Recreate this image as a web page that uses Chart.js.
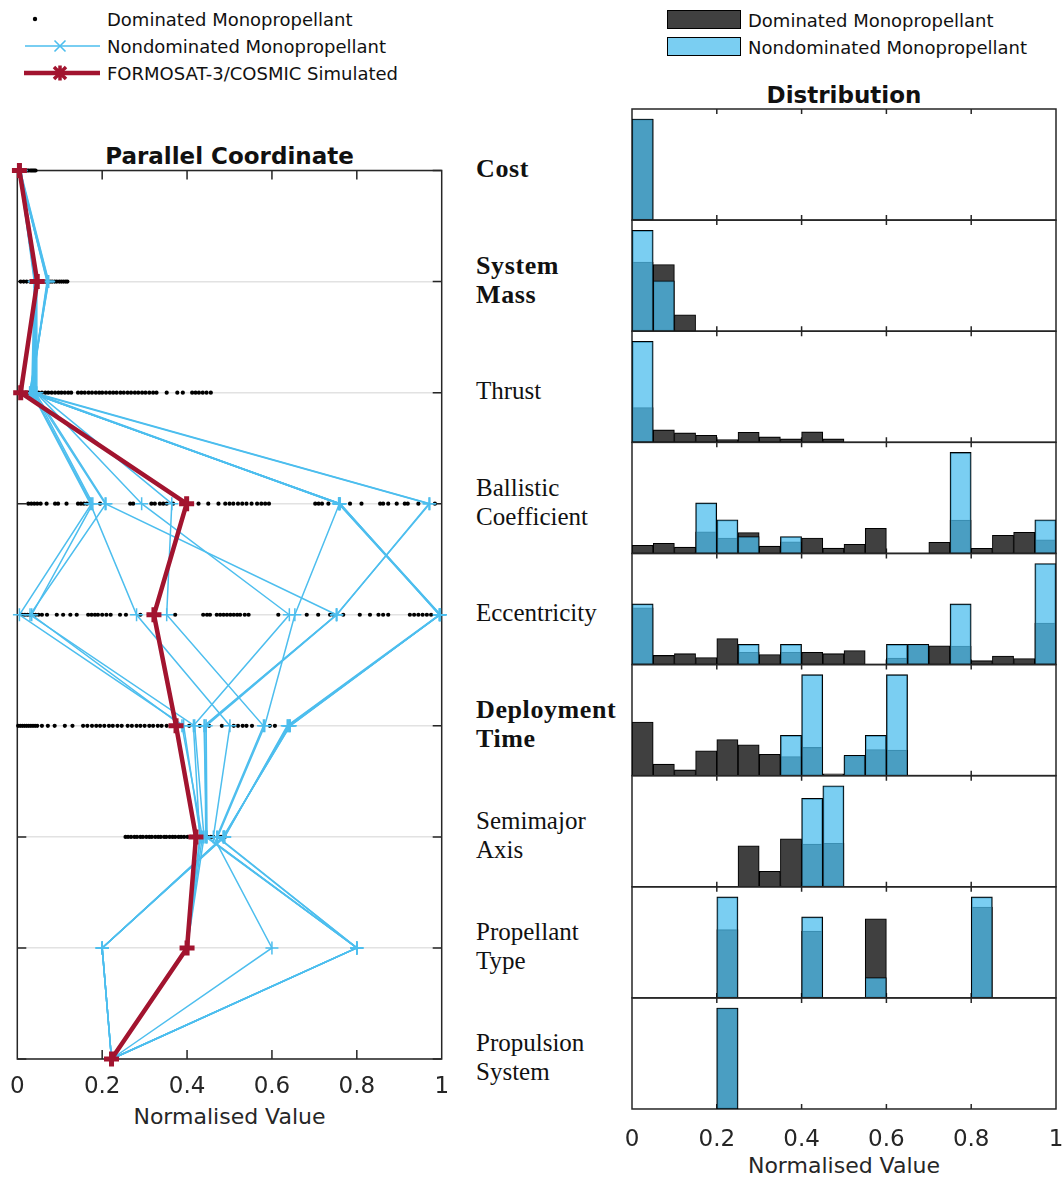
<!DOCTYPE html>
<html>
<head>
<meta charset="utf-8">
<script src="https://cdn.jsdelivr.net/npm/chart.js@4.4.0/dist/chart.umd.min.js"></script>
<style>
  html, body { margin: 0; padding: 0; background: #fff; }
  body { width: 1063px; height: 1180px; position: relative; overflow: hidden;
         font-family: 'DejaVu Sans', sans-serif; color: #1a1a1a; }
  canvas { position: absolute; }
  .txt { position: absolute; white-space: nowrap; line-height: 1.2; }
  .mid { transform: translateY(-50%); }
  .ctr { transform: translate(-50%, -50%); }
  .obj { font-family: 'Liberation Serif', serif; font-size: 25px; color: #111; }
  .obj.b { font-weight: bold; font-size: 26px; letter-spacing: 0.6px; }
  .leg { font-size: 18px; color: #111; }
  .ttl { font-size: 23px; font-weight: bold; color: #111; }
  .axt { font-size: 22px; color: #262626; }
  .box { position: absolute; width: 72px; height: 17px; border: 1px solid #000; }
</style>
</head>
<body>

<!-- legend for the parallel-coordinate panel -->
<svg style="position:absolute;left:0;top:0" width="110" height="90">
  <circle cx="35" cy="19" r="2.2" fill="#000"/>
  <line x1="25" y1="46" x2="100" y2="46" stroke="rgb(77,190,238)" stroke-width="1.5"/>
  <path d="M54.5 40.5 L65.5 51.5 M54.5 51.5 L65.5 40.5" stroke="rgb(77,190,238)" stroke-width="1.6"/>
  <line x1="24" y1="73" x2="100" y2="73" stroke="rgb(162,20,47)" stroke-width="4.5"/>
  <path d="M54 67 L66 79 M54 79 L66 67 M60 65.5 L60 80.5" stroke="rgb(162,20,47)" stroke-width="3.5"/>
</svg>
<div class="txt mid leg" style="left:107px;top:20px">Dominated Monopropellant</div>
<div class="txt mid leg" style="left:107px;top:47px">Nondominated Monopropellant</div>
<div class="txt mid leg" style="left:107px;top:74px">FORMOSAT-3/COSMIC Simulated</div>

<!-- legend for the distribution panels -->
<div class="box" style="left:667px;top:10px;background:rgb(64,64,64)"></div>
<div class="box" style="left:667px;top:37px;background:rgb(122,206,242)"></div>
<div class="txt mid leg" style="left:748px;top:21px">Dominated Monopropellant</div>
<div class="txt mid leg" style="left:748px;top:48px">Nondominated Monopropellant</div>

<div class="txt ctr ttl" style="left:229.5px;top:157px">Parallel Coordinate</div>
<div class="txt ctr ttl" style="left:844px;top:96px">Distribution</div>
<div class="txt ctr axt" style="left:229.5px;top:1117px">Normalised Value</div>
<div class="txt ctr axt" style="left:844px;top:1166px">Normalised Value</div>

<div id="labels"></div>
<canvas id="pc" width="470" height="1180" style="left:0;top:0"></canvas>
<div id="hists"></div>

<script>
// ---- objectives (rows of the parallel-coordinate plot, one histogram each) ----
const objectives = ['Cost', 'System Mass', 'Thrust', 'Ballistic Coefficient', 'Eccentricity',
                    'Deployment Time', 'Semimajor Axis', 'Propellant Type', 'Propulsion System'];
const objectiveLines = [['Cost'], ['System', 'Mass'], ['Thrust'], ['Ballistic', 'Coefficient'],
                        ['Eccentricity'], ['Deployment', 'Time'], ['Semimajor', 'Axis'],
                        ['Propellant', 'Type'], ['Propulsion', 'System']];
const objectiveBold = [true, true, false, false, false, true, false, false, false];

const xTickValues = [0, 0.2, 0.4, 0.6, 0.8, 1];
const binEdges = [0, 0.05, 0.1, 0.15, 0.2, 0.25, 0.3, 0.35, 0.4, 0.45, 0.5,
                  0.55, 0.6, 0.65, 0.7, 0.75, 0.8, 0.85, 0.9, 0.95, 1];

// ---- dominated designs, normalised values per objective row ----
const domCost = [0.002, 0.006, 0.01, 0.013, 0.017, 0.02, 0.024, 0.027, 0.031, 0.034, 0.037, 0.04, 0.043];
const domMass = [0.008, 0.015, 0.022, 0.03, 0.036, 0.043, 0.05, 0.055, 0.061, 0.066, 0.071, 0.077,
                 0.082, 0.088, 0.093, 0.099, 0.104, 0.109, 0.114, 0.118];
const domThrust = [0.012, 0.02, 0.027, 0.035, 0.043, 0.05, 0.058, 0.066, 0.073, 0.081, 0.089, 0.097,
                   0.104, 0.112, 0.12, 0.127, 0.143, 0.151, 0.159, 0.168, 0.176, 0.185, 0.193, 0.2,
                   0.209, 0.218, 0.226, 0.234, 0.243, 0.251, 0.26, 0.268, 0.277, 0.285, 0.294, 0.302,
                   0.311, 0.32, 0.328, 0.352, 0.377, 0.39, 0.412, 0.42, 0.428, 0.437, 0.446, 0.456];
const domBallistic = [0.026, 0.033, 0.04, 0.047, 0.055, 0.069, 0.089, 0.096, 0.116, 0.143, 0.15, 0.157,
                      0.164, 0.195, 0.266, 0.273, 0.316, 0.324, 0.336, 0.344, 0.352, 0.367, 0.427,
                      0.45, 0.474, 0.49, 0.5, 0.509, 0.52, 0.53, 0.54, 0.552, 0.565, 0.575, 0.584,
                      0.593, 0.702, 0.71, 0.718, 0.733, 0.784, 0.811, 0.855, 0.862, 0.874, 0.894,
                      0.913, 0.92, 0.945, 0.984];
const domEccentricity = [0.012, 0.018, 0.024, 0.03, 0.037, 0.043, 0.05, 0.058, 0.07, 0.093, 0.108,
                         0.125, 0.14, 0.167, 0.175, 0.183, 0.19, 0.2, 0.21, 0.22, 0.242, 0.256, 0.29,
                         0.31, 0.372, 0.438, 0.447, 0.454, 0.47, 0.478, 0.486, 0.494, 0.502, 0.51,
                         0.518, 0.525, 0.536, 0.545, 0.615, 0.682, 0.709, 0.737, 0.745, 0.768, 0.807,
                         0.831, 0.851, 0.862, 0.874, 0.925, 0.935, 0.945, 0.955, 0.965, 0.975];
const domDeployment = [0.002, 0.007, 0.012, 0.017, 0.022, 0.027, 0.032, 0.037, 0.042, 0.047, 0.058,
                       0.072, 0.088, 0.112, 0.13, 0.155, 0.165, 0.176, 0.186, 0.195, 0.205, 0.216,
                       0.225, 0.236, 0.246, 0.26, 0.27, 0.281, 0.29, 0.3, 0.311, 0.32, 0.331, 0.34,
                       0.352, 0.405, 0.43, 0.452, 0.482, 0.51, 0.52, 0.531, 0.54, 0.553, 0.595, 0.607];
const domSemimajor = [0.255, 0.261, 0.268, 0.276, 0.282, 0.29, 0.296, 0.304, 0.311, 0.317, 0.325,
                      0.332, 0.338, 0.346, 0.351, 0.359, 0.366, 0.372, 0.38, 0.386, 0.393, 0.401,
                      0.409, 0.414, 0.423, 0.431, 0.437, 0.448, 0.456, 0.462, 0.473, 0.48, 0.489];
const dominatedRows = [domCost, domMass, domThrust, domBallistic, domEccentricity, domDeployment, domSemimajor];

// ---- nondominated designs: one row per design, values in objective order ----
const nondominated = [
  [0.004, 0.042, 0.036, 0.175, 0.005, 0.392, 0.432, 0.4, 0.222],
  [0.006, 0.044, 0.040, 0.178, 0.034, 0.388, 0.436, 0.4, 0.222],
  [0.005, 0.040, 0.034, 0.172, 0.281, 0.501, 0.462, 0.6, 0.222],
  [0.008, 0.045, 0.042, 0.209, 0.030, 0.418, 0.440, 0.4, 0.222],
  [0.007, 0.043, 0.038, 0.207, 0.752, 0.440, 0.446, 0.8, 0.222],
  [0.006, 0.041, 0.044, 0.293, 0.641, 0.415, 0.430, 0.4, 0.222],
  [0.009, 0.046, 0.046, 0.364, 0.352, 0.580, 0.470, 0.8, 0.222],
  [0.004, 0.072, 0.030, 0.759, 0.996, 0.640, 0.487, 0.2, 0.222],
  [0.005, 0.070, 0.032, 0.757, 0.995, 0.642, 0.486, 0.2, 0.222],
  [0.006, 0.073, 0.031, 0.760, 0.997, 0.638, 0.488, 0.2, 0.222],
  [0.005, 0.071, 0.033, 0.758, 0.996, 0.643, 0.485, 0.2, 0.222],
  [0.007, 0.074, 0.029, 0.761, 0.994, 0.636, 0.489, 0.2, 0.222],
  [0.006, 0.043, 0.037, 0.759, 0.654, 0.583, 0.472, 0.8, 0.222],
  [0.005, 0.044, 0.040, 0.972, 0.752, 0.442, 0.444, 0.8, 0.222],
  [0.008, 0.045, 0.035, 0.970, 0.753, 0.445, 0.447, 0.8, 0.222]
];

// ---- FORMOSAT-3/COSMIC simulated design ----
const formosat = [0.005, 0.047, 0.008, 0.399, 0.322, 0.374, 0.421, 0.4, 0.222];

// ---- histogram probabilities per 0.05 bin (20 bins), one row per objective ----
const histDominated = [
  [1, 0, 0, 0, 0, 0, 0, 0, 0, 0, 0, 0, 0, 0, 0, 0, 0, 0, 0, 0],
  [0.457, 0.44, 0.109, 0, 0, 0, 0, 0, 0, 0, 0, 0, 0, 0, 0, 0, 0, 0, 0, 0],
  [0.345, 0.123, 0.093, 0.07, 0.027, 0.1, 0.054, 0.034, 0.103, 0.034, 0, 0, 0, 0, 0, 0, 0, 0, 0, 0],
  [0.032, 0.04, 0.025, 0.086, 0.061, 0.083, 0.029, 0.046, 0.061, 0.021, 0.036, 0.099, 0, 0, 0.044, 0.132, 0.02, 0.072, 0.084, 0.054],
  [0.187, 0.03, 0.036, 0.023, 0.086, 0.04, 0.033, 0.04, 0.04, 0.036, 0.046, 0, 0.021, 0.066, 0.062, 0.061, 0.013, 0.028, 0.02, 0.137],
  [0.177, 0.038, 0.019, 0.082, 0.119, 0.102, 0.07, 0.063, 0.093, 0.006, 0.063, 0.086, 0.084, 0, 0, 0, 0, 0, 0, 0],
  [0, 0, 0, 0, 0, 0.216, 0.081, 0.253, 0.225, 0.229, 0, 0, 0, 0, 0, 0, 0, 0, 0, 0],
  [0, 0, 0, 0, 0.225, 0, 0, 0, 0.22, 0, 0, 0.261, 0, 0, 0, 0, 0.299, 0, 0, 0],
  [0, 0, 0, 0, 1, 0, 0, 0, 0, 0, 0, 0, 0, 0, 0, 0, 0, 0, 0, 0]
];
const histNondominated = [
  [1, 0, 0, 0, 0, 0, 0, 0, 0, 0, 0, 0, 0, 0, 0, 0, 0, 0, 0, 0],
  [0.667, 0.333, 0, 0, 0, 0, 0, 0, 0, 0, 0, 0, 0, 0, 0, 0, 0, 0, 0, 0],
  [1, 0, 0, 0, 0, 0, 0, 0, 0, 0, 0, 0, 0, 0, 0, 0, 0, 0, 0, 0],
  [0, 0, 0, 0.2, 0.133, 0.067, 0, 0.067, 0, 0, 0, 0, 0, 0, 0, 0.4, 0, 0, 0, 0.133],
  [0.2, 0, 0, 0, 0, 0.067, 0, 0.067, 0, 0, 0, 0, 0.067, 0.067, 0, 0.2, 0, 0, 0, 0.333],
  [0, 0, 0, 0, 0, 0, 0, 0.133, 0.333, 0, 0.067, 0.133, 0.333, 0, 0, 0, 0, 0, 0, 0],
  [0, 0, 0, 0, 0, 0, 0, 0, 0.467, 0.533, 0, 0, 0, 0, 0, 0, 0, 0, 0, 0],
  [0, 0, 0, 0, 0.333, 0, 0, 0, 0.267, 0, 0, 0.067, 0, 0, 0, 0, 0.333, 0, 0, 0],
  [0, 0, 0, 0, 1, 0, 0, 0, 0, 0, 0, 0, 0, 0, 0, 0, 0, 0, 0, 0]
];

// ---- styling ----
const BLUE = 'rgb(77,190,238)';
const BLUE_FACE = 'rgba(77,190,238,0.75)';
const RED = 'rgb(162,20,47)';
const DARK = 'rgb(64,64,64)';
const AXIS = '#262626';

Chart.defaults.font.family = "'DejaVu Sans', sans-serif";
Chart.defaults.animation = false;
Chart.defaults.events = [];
Chart.defaults.plugins.legend.display = false;
Chart.defaults.plugins.tooltip.enabled = false;

const fmtTick = v => String(+(+v).toFixed(2));

// box around the plotting area with inward tick marks
function framePlugin(tickLen, levelTicks) {
  return {
    id: 'frame',
    beforeDatasetsDraw(chart) {
      const { ctx, chartArea: a, scales } = chart;
      ctx.save();
      ctx.strokeStyle = AXIS;
      ctx.lineWidth = 1.5;
      ctx.beginPath();
      xTickValues.slice(1, -1).forEach(v => {
        const px = scales.x.getPixelForValue(v);
        ctx.moveTo(px, a.top); ctx.lineTo(px, a.top + tickLen);
        ctx.moveTo(px, a.bottom); ctx.lineTo(px, a.bottom - tickLen);
      });
      if (levelTicks) {
        objectives.forEach((_, i) => {
          const py = scales.y.getPixelForValue(i);
          ctx.moveTo(a.left, py); ctx.lineTo(a.left + tickLen, py);
          ctx.moveTo(a.right, py); ctx.lineTo(a.right - tickLen, py);
        });
      }
      ctx.stroke();
      ctx.strokeRect(a.left, a.top, a.width, a.height);
      ctx.restore();
    }
  };
}

// ---------------- parallel coordinate plot ----------------
const pcSets = [];
pcSets.push({
  data: formosat.map((v, i) => ({ x: v, y: i })),
  showLine: true, borderColor: RED, borderWidth: 4.5,
  pointStyle: 'cross', pointRadius: 7.5, pointBorderWidth: 5, pointBorderColor: RED,
  order: 0, clip: false
});
nondominated.forEach(row => pcSets.push({
  data: row.map((v, i) => ({ x: v, y: i })),
  showLine: true, borderColor: BLUE, borderWidth: 1.5,
  pointStyle: 'cross', pointRadius: 6.5, pointBorderWidth: 1.5, pointBorderColor: BLUE,
  order: 1, clip: false
}));
pcSets.push({
  data: dominatedRows.flatMap((row, i) => row.map(v => ({ x: v, y: i }))),
  showLine: false, pointRadius: 2.1, pointBorderWidth: 0,
  pointBackgroundColor: '#000', backgroundColor: '#000',
  order: 2, clip: false
});

new Chart(document.getElementById('pc'), {
  type: 'scatter',
  data: { datasets: pcSets },
  options: {
    responsive: false,
    devicePixelRatio: 1,
    layout: { padding: { left: 17.3, right: 28.3, top: 170.5, bottom: 81 } },
    scales: {
      x: {
        type: 'linear', min: 0, max: 1, position: 'bottom',
        afterBuildTicks: s => { s.ticks = xTickValues.map(v => ({ value: v })); },
        ticks: { font: { size: 23 }, color: AXIS, padding: 14, callback: fmtTick, maxRotation: 0 },
        grid: { display: false, drawTicks: false },
        border: { display: false },
        afterFit: s => { s.height = 40; s.paddingLeft = 0; s.paddingRight = 0; }
      },
      y: {
        type: 'linear', min: 0, max: objectives.length - 1, reverse: true,
        afterBuildTicks: s => { s.ticks = objectives.map((_, i) => ({ value: i })); },
        ticks: { display: false },
        grid: { color: '#e2e2e2', lineWidth: 1.5, drawTicks: false },
        border: { display: false },
        afterFit: s => { s.width = 0; }
      }
    }
  },
  plugins: [framePlugin(9, true)]
});

// ---------------- objective names between the panels ----------------
const labelHost = document.getElementById('labels');
const rowCentres = [169, 280, 391, 502, 613, 724, 835, 946, 1057];
objectiveLines.forEach((lines, i) => {
  const first = rowCentres[i] - (lines.length - 1) * 14.5;
  lines.forEach((t, k) => {
    const d = document.createElement('div');
    d.className = 'txt mid obj' + (objectiveBold[i] ? ' b' : '');
    d.style.left = '476px';
    d.style.top = (first + k * 29) + 'px';
    d.textContent = t;
    labelHost.appendChild(d);
  });
});

// ---------------- distribution histograms ----------------
const histHost = document.getElementById('hists');
const panelTop0 = 109, panelH = 111.11, panelLeft = 632, panelW = 424;
const binCentres = binEdges.slice(0, -1).map((e, k) => (e + binEdges[k + 1]) / 2);

objectives.forEach((name, i) => {
  const last = i === objectives.length - 1;
  const top = panelTop0 + i * panelH, bottom = top + panelH;
  const cTop = Math.floor(top) - 6;
  const cLeft = panelLeft - 6;
  const cW = 1063 - cLeft;
  const cH = last ? 1180 - cTop : Math.ceil(bottom) + 6 - cTop;
  const axisH = last ? 50 : 0;
  const canvas = document.createElement('canvas');
  canvas.width = cW; canvas.height = cH;
  canvas.style.left = cLeft + 'px'; canvas.style.top = cTop + 'px';
  histHost.appendChild(canvas);

  const dom = histDominated[i], nd = histNondominated[i];
  const yMax = 1.1 * Math.max(...dom, ...nd);

  new Chart(canvas, {
    type: 'bar',
    data: {
      datasets: [
        { label: 'Nondominated Monopropellant',
          data: binCentres.map((c, k) => ({ x: c, y: nd[k] })),
          backgroundColor: BLUE_FACE, borderColor: '#000', borderWidth: 1.1,
          borderSkipped: false, grouped: false, barPercentage: 1, categoryPercentage: 1, order: 0 },
        { label: 'Dominated Monopropellant',
          data: binCentres.map((c, k) => ({ x: c, y: dom[k] })),
          backgroundColor: DARK, borderColor: '#000', borderWidth: 1.1,
          borderSkipped: false, grouped: false, barPercentage: 1, categoryPercentage: 1, order: 1 }
      ]
    },
    options: {
      responsive: false,
      devicePixelRatio: 1,
      layout: { padding: { left: 6, right: cW - 6 - panelW, top: top - cTop,
                           bottom: cH - (bottom - cTop) - axisH } },
      scales: {
        x: {
          type: 'linear', min: 0, max: 1, offset: false, display: last,
          afterBuildTicks: s => { s.ticks = xTickValues.map(v => ({ value: v })); },
          ticks: { font: { size: 23 }, color: AXIS, padding: 17, callback: fmtTick, maxRotation: 0 },
          grid: { display: false, offset: false, drawTicks: false },
          border: { display: false },
          afterFit: s => { s.height = axisH; s.paddingLeft = 0; s.paddingRight = 0; }
        },
        y: { type: 'linear', min: 0, max: yMax, display: false }
      }
    },
    plugins: [framePlugin(5, false)]
  });
});
</script>
</body>
</html>
